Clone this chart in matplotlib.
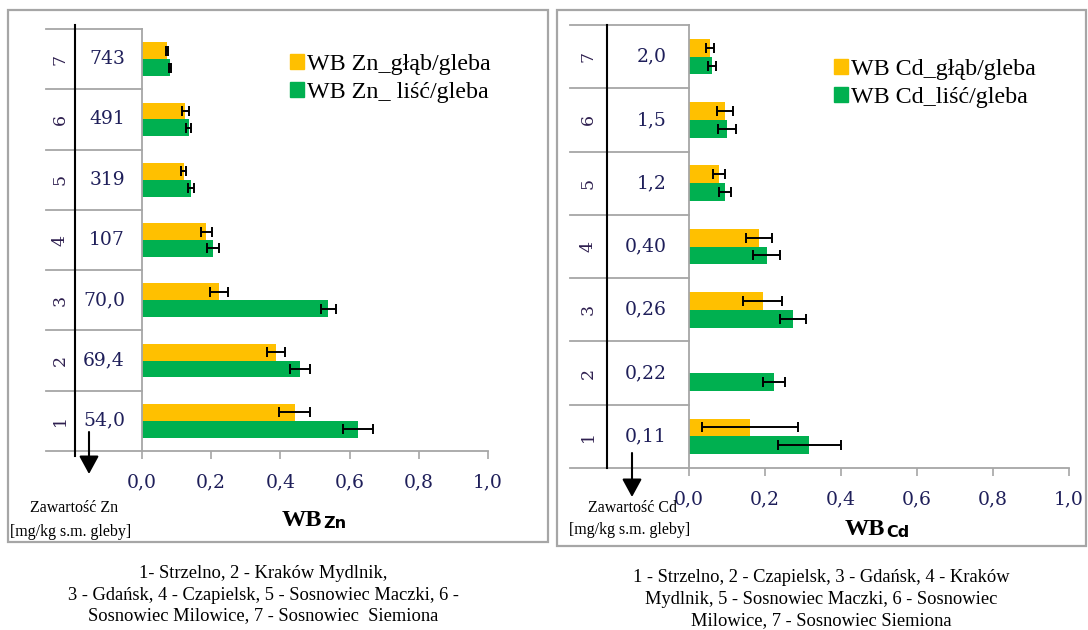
import numpy as np
import matplotlib.pyplot as plt
from matplotlib.patches import Rectangle, Patch, FancyArrowPatch

# --- dane ---
kategorie = [1, 2, 3, 4, 5, 6, 7]
xticks = [0.0, 0.2, 0.4, 0.6, 0.8, 1.0]
xtick_labels = ['0,0', '0,2', '0,4', '0,6', '0,8', '1,0']

zn_zawartosc = ['54,0', '69,4', '70,0', '107', '319', '491', '743']
zn_glab = [0.441, 0.387, 0.223, 0.186, 0.120, 0.125, 0.072]
zn_glab_err = [0.044, 0.026, 0.026, 0.015, 0.007, 0.010, 0.004]
zn_lisc = [0.625, 0.457, 0.539, 0.206, 0.141, 0.135, 0.081]
zn_lisc_err = [0.044, 0.028, 0.023, 0.017, 0.008, 0.007, 0.004]

cd_zawartosc = ['0,11', '0,22', '0,26', '0,40', '1,2', '1,5', '2,0']
cd_glab = [0.160, np.nan, 0.194, 0.184, 0.079, 0.095, 0.055]
cd_glab_err = [0.127, np.nan, 0.052, 0.034, 0.017, 0.021, 0.010]
cd_lisc = [0.317, 0.224, 0.274, 0.204, 0.094, 0.100, 0.061]
cd_lisc_err = [0.083, 0.029, 0.035, 0.036, 0.016, 0.023, 0.010]

zn_legenda = ['WB Zn_głąb/gleba', 'WB Zn_ liść/gleba']
cd_legenda = ['WB Cd_głąb/gleba', 'WB Cd_liść/gleba']

zn_podpis = ['1- Strzelno, 2 - Kraków Mydlnik,',
             '3 - Gdańsk, 4 - Czapielsk, 5 - Sosnowiec Maczki, 6 -',
             'Sosnowiec Milowice, 7 - Sosnowiec  Siemiona']
cd_podpis = ['1 - Strzelno, 2 - Czapielsk, 3 - Gdańsk, 4 - Kraków',
             'Mydlnik, 5 - Sosnowiec Maczki, 6 - Sosnowiec',
             'Milowice, 7 - Sosnowiec Siemiona']

# --- styl ---
ZOLTY = '#FFC000'
ZIELONY = '#00B050'
SZARY = '#A6A6A6'
GRANAT = '#1F1F5A'
SERIF = 'Liberation Serif'
CYFRY = 'DejaVu Serif'

W, H = 1088, 630
fig = plt.figure(figsize=(W / 100, H / 100), dpi=100)


def fxy(px, py):
    return px / W, 1 - py / H


def panel(box, tab_left, black_x, black_y, val_x, kat_x,
          glab, glab_err, lisc, lisc_err, zawartosc, legenda, leg_xy):
    x0, y0, x1, y1 = box
    ax = fig.add_axes([x0 / W, 1 - y1 / H, (x1 - x0) / W, (y1 - y0) / H])

    def axx(px):
        return (px - x0) / (x1 - x0)

    def axy(py):
        return (y1 - py) / (y1 - y0)

    y = np.array(kategorie)
    ek = dict(ecolor='black', elinewidth=1.4, capsize=3.5, capthick=1.4)
    ax.barh(y + 0.14, glab, height=0.28, color=ZOLTY, xerr=glab_err, error_kw=ek)
    ax.barh(y - 0.14, lisc, height=0.28, color=ZIELONY, xerr=lisc_err, error_kw=ek)

    ax.set_xlim(0, 1)
    ax.set_ylim(0.5, 7.5)
    for s in ['top', 'right', 'bottom']:
        ax.spines[s].set_visible(False)
    ax.spines['left'].set_color(SZARY)
    ax.spines['left'].set_linewidth(1.3)
    ax.set_yticks([])
    ax.set_xticks(xticks, xtick_labels)
    ax.tick_params(axis='x', direction='out', length=6, width=1.2, color=SZARY,
                   pad=10, labelsize=13.5, labelcolor=GRANAT)
    for lab in ax.get_xticklabels():
        lab.set_fontfamily(CYFRY)

    # os X i tabela
    ax.plot([axx(tab_left), 1], [0, 0], transform=ax.transAxes,
            color=SZARY, lw=1.3, clip_on=False)
    ytr = ax.get_yaxis_transform()
    for b in np.arange(1.5, 8.0, 1.0):
        ax.plot([axx(tab_left), 0], [b, b], transform=ytr,
                color=SZARY, lw=1.3, clip_on=False)
    ax.plot([axx(black_x)] * 2, [axy(black_y[0]), axy(black_y[1])],
            transform=ax.transAxes, color='black', lw=1.5, clip_on=False)
    for k, z in zip(kategorie, zawartosc):
        ax.text(axx(val_x), k, z, transform=ytr, ha='right', va='center',
                family=CYFRY, fontsize=13.5, color=GRANAT)
        ax.text(axx(kat_x), k, str(k), transform=ytr, ha='center', va='center',
                rotation=90, family=CYFRY, fontsize=12.5, color='#2E1F4F')

    ax.legend([Patch(color=ZOLTY), Patch(color=ZIELONY)], legenda,
              loc='upper left', bbox_to_anchor=fxy(*leg_xy),
              bbox_transform=fig.transFigure, frameon=False,
              handlelength=0.58, handleheight=0.58, handletextpad=0.12,
              borderpad=0, borderaxespad=0, labelspacing=0.28,
              prop=dict(family=SERIF, size=17.3))
    return ax


# lewy panel (Zn)
panel((142, 29, 488, 451), 46, 75, (25, 456), 125, 60,
      zn_glab, zn_glab_err, zn_lisc, zn_lisc_err, zn_zawartosc,
      zn_legenda, (290, 54))
# prawy panel (Cd)
panel((689, 25, 1069, 468), 570, 607, (25, 468), 667, 588,
      cd_glab, cd_glab_err, cd_lisc, cd_lisc_err, cd_zawartosc,
      cd_legenda, (834, 59))

# ramki
fig.add_artist(Rectangle(fxy(8, 542), 540 / W, 532 / H, transform=fig.transFigure,
                         fill=False, ec=SZARY, lw=1.6))
fig.add_artist(Rectangle(fxy(557, 546), 529 / W, 536 / H, transform=fig.transFigure,
                         fill=False, ec=SZARY, lw=1.6))

# strzalki
for ax_x, ya, yb in [(89, 432, 474), (632, 453, 497)]:
    fig.add_artist(FancyArrowPatch(fxy(ax_x, ya), fxy(ax_x, yb),
                                   transform=fig.transFigure,
                                   arrowstyle='-|>,head_length=0.55,head_width=0.3',
                                   mutation_scale=20, color='black', lw=1.5,
                                   shrinkA=0, shrinkB=0))

# opisy zawartosci
fig.text(*fxy(74, 508), 'Zawartość Zn', ha='center', va='center', family=SERIF, size=11.5)
fig.text(*fxy(71, 532), '[mg/kg s.m. gleby]', ha='center', va='center', family=SERIF, size=11.5)
fig.text(*fxy(632, 508), 'Zawartość Cd', ha='center', va='center', family=SERIF, size=11.5)
fig.text(*fxy(630, 530), '[mg/kg s.m. gleby]', ha='center', va='center', family=SERIF, size=11.5)

# etykiety osi WB
for xr, yb, sub in [(322, 526, 'Zn'), (885, 535, 'Cd')]:
    fig.text(*fxy(xr, yb), 'WB', ha='right', va='baseline', family=SERIF,
             weight='bold', size=17.5)
    fig.text(*fxy(xr + 1, yb + 2), sub, ha='left', va='baseline',
             family='DejaVu Sans', weight='bold', size=11.5)

# podpisy
for cx, ys, linie in [(263, (573, 595, 616), zn_podpis), (821, (578, 600, 621), cd_podpis)]:
    for yy, t in zip(ys, linie):
        fig.text(*fxy(cx, yy), t, ha='center', va='center', family=SERIF, size=13.3)

fig.savefig('out.png', dpi=100)
